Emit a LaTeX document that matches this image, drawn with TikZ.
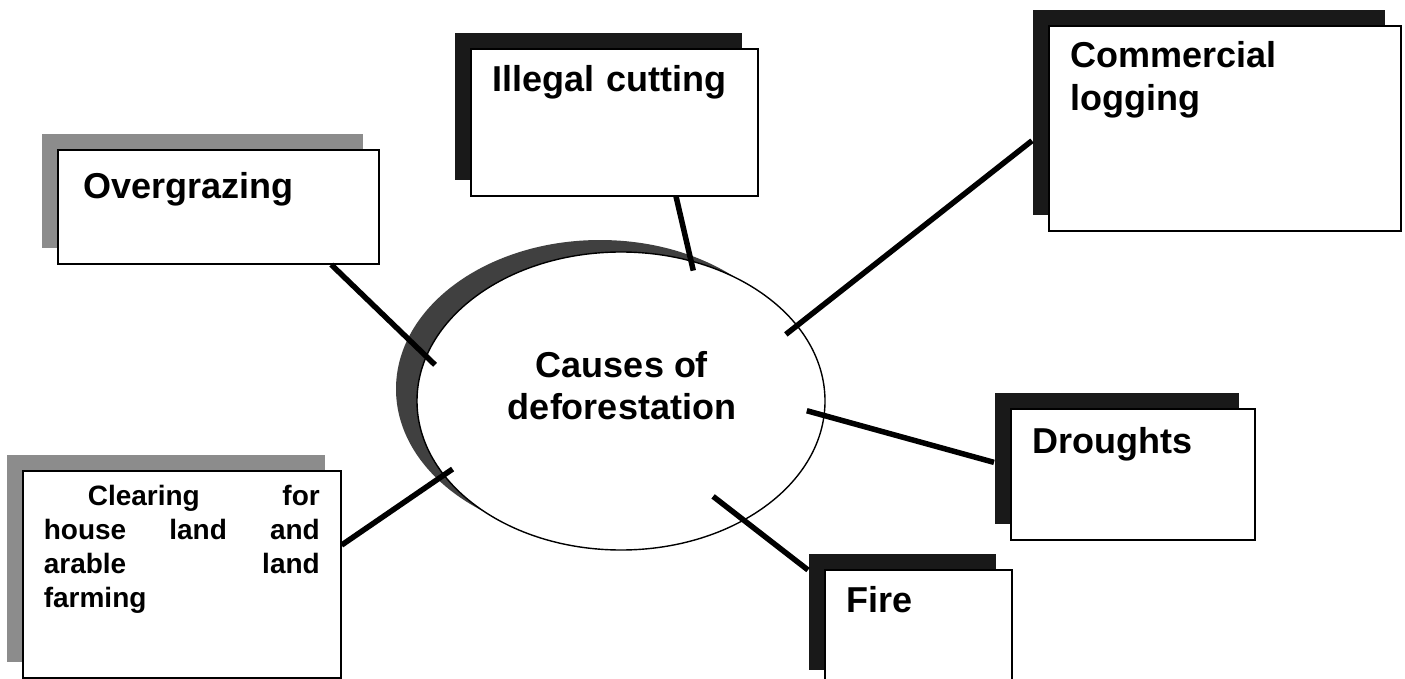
\documentclass[tikz,border=0pt]{standalone}
\usepackage{fontspec}
\setmainfont{Liberation Sans}
\usetikzlibrary{shapes.geometric,shadows,calc}

\begin{document}
\begin{tikzpicture}[x=1pt,y=-1pt,
  box/.style={draw,fill=white,line width=1.6pt,anchor=north west,inner xsep=22pt,inner ysep=0pt,
    align=left,font=\bfseries\fontsize{36}{43}\selectfont},
  darkshade/.style={general shadow={fill=black!90,shadow xshift=-16pt,shadow yshift=16pt}},
  greyshade/.style={general shadow={fill=black!45,shadow xshift=-16pt,shadow yshift=16pt}},
  hub/.style={ellipse,draw,fill=white,line width=1.4pt,minimum width=408pt,minimum height=298pt,
    inner sep=0pt,general shadow={fill=black!75,shadow xshift=-21pt,shadow yshift=12pt}},
  link/.style={line width=5.5pt}]
  \useasboundingbox (0,0) rectangle (1405,679);

  \node[hub] (hub) at (621,401) {};
  \node[font=\bfseries\fontsize{36}{42}\selectfont,align=center] (hubtext) at (622,386) {Causes of\\deforestation};

  \node[box,greyshade,inner xsep=26pt,text width=269pt,text height=49pt,text depth=65pt] (over) at (57,149) {Overgrazing};
  \node[box,darkshade,text width=243pt,text height=43pt,text depth=104pt] (illegal) at (470,48) {Illegal cutting};
  \node[box,darkshade,text width=308pt,text height=42pt,text depth=163pt] (logging) at (1048,25) {Commercial\\logging};
  \node[box,greyshade,inner xsep=21pt,text width=276pt,text height=35pt,text depth=172pt,
    font=\bfseries\fontsize{28}{34}\selectfont] (clearing) at (22,470)
    {\hspace*{44pt}Clearing\hfill for\\house\hfill land\hfill and\\arable\hfill land\\farming};
  \node[box,darkshade,text width=200pt,text height=45pt,text depth=86pt] (drought) at (1010,408) {Droughts};
  \node[box,darkshade,text width=143pt,text height=43pt,text depth=73pt] (fire) at (824,569) {Fire};

  \draw[link] ($(over.south west)!0.85!(over.south east)$) -- ($(hub.center)!0.94!(hub.169)$);
  \draw[link] ($(illegal.south west)!0.714!(illegal.south east)$) -- ($(hub.center)!0.94!(hub.61)$);
  \draw[link] ($(logging.north west)!0.56!(logging.south west)+(-16,0)$) -- ($(hub.center)!0.92!(hub.22)$);
  \draw[link] ($(drought.north west)!0.41!(drought.south west)+(-16,0)$) -- ($(hub.center)!0.91!(hub.-3)$);
  \draw[link] ($(fire.north west)+(-16,1)$) -- ($(hub.center)!0.78!(hub.-46)$);
  \draw[link] ($(clearing.north east)!0.36!(clearing.south east)$) -- ($(hub.center)!0.94!(hub.-158)$);
\end{tikzpicture}
\end{document}
